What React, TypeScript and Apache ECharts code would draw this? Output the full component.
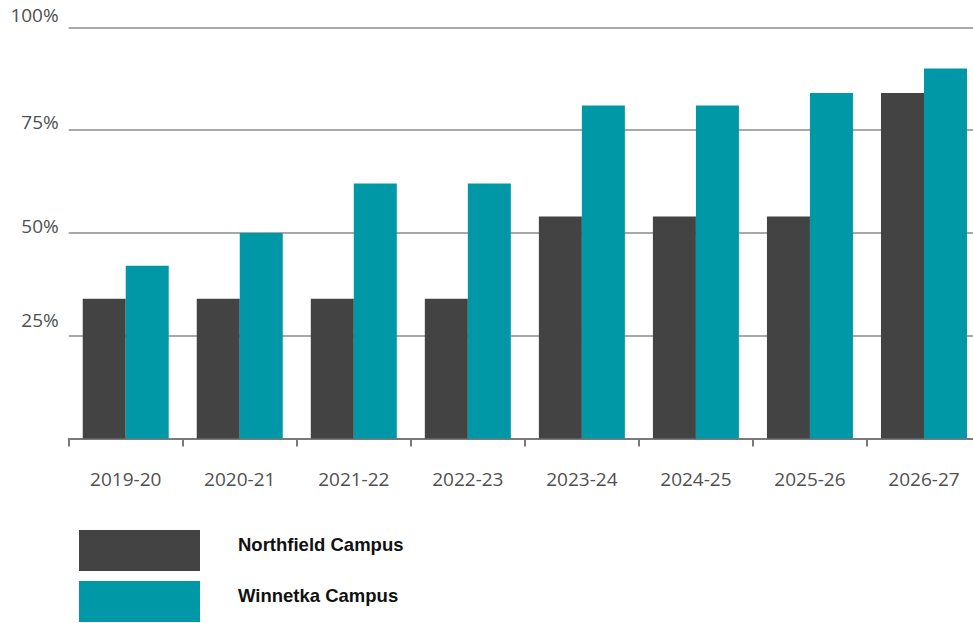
import React, { useEffect, useRef } from "react";
import * as echarts from "echarts";

const categories = ["2019-20", "2020-21", "2021-22", "2022-23", "2023-24", "2024-25", "2025-26", "2026-27"];
const northfield = [34, 34, 34, 34, 54, 54, 54, 84];
const winnetka = [42, 50, 62, 62, 81, 81, 84, 90];
const yTicks = [0, 25, 50, 75, 100];

const labelStyleKey: Record<number, string> = { 25: "l25", 50: "l50", 75: "l75", 100: "l100" };

export default function App() {
  const ref = useRef<HTMLDivElement>(null);
  useEffect(() => {
    if (!ref.current) return;
    const chart = echarts.init(ref.current, undefined, { renderer: "svg" });
    const labelFont = {
      fontFamily: "Open Sans",
      fontSize: 19,
      color: "#505050",
    };
    const legendFont = {
      fontFamily: "Liberation Sans",
      fontWeight: "bold",
      fontSize: 18.5,
      color: "#111",
    };
    chart.setOption({
      animation: false,
      grid: { left: 68.7, right: 9, top: 27.3, height: 411.2 },
      legend: {
        orient: "vertical",
        left: 79,
        top: 530,
        padding: 0,
        itemWidth: 121,
        itemHeight: 41,
        itemGap: 10,
        icon: "rect",
        selectedMode: false,
        formatter: (name: string) => `{t|${name}}`,
        textStyle: {
          ...legendFont,
          rich: {
            t: { ...legendFont, padding: [0, 0, 12, 33] },
          },
        },
        data: ["Northfield Campus", "Winnetka Campus"],
      },
      xAxis: {
        type: "category",
        data: categories,
        axisLine: { show: true, lineStyle: { color: "#7a7a7a", width: 2 } },
        axisTick: { show: true, length: 8, lineStyle: { color: "#7a7a7a", width: 2 } },
        axisLabel: { ...labelFont, margin: 31 },
      },
      yAxis: {
        type: "value",
        min: yTicks[0],
        max: yTicks[yTicks.length - 1],
        interval: 25,
        axisLine: { show: false },
        axisTick: { show: false },
        splitLine: { show: true, lineStyle: { color: "#a8a8a8", width: 2 } },
        axisLabel: {
          ...labelFont,
          margin: 10,
          verticalAlign: "middle",
          formatter: (v: number) => (v === 0 ? "" : `{${labelStyleKey[v]}|${v}%}`),
          rich: {
            l25: { ...labelFont, padding: [0, 0, 32, 0] },
            l50: { ...labelFont, padding: [0, 0, 14, 0] },
            l75: { ...labelFont, padding: [0, 0, 16, 0] },
            l100: { ...labelFont, padding: [0, 0, 24, 0] },
          },
        },
      },
      series: [
        {
          name: "Northfield Campus",
          type: "bar",
          data: northfield,
          barWidth: 43,
          barGap: "0%",
          itemStyle: { color: "#434343" },
        },
        {
          name: "Winnetka Campus",
          type: "bar",
          data: winnetka,
          barWidth: 43,
          barGap: "0%",
          itemStyle: { color: "#0097a7" },
        },
      ],
    });
    return () => chart.dispose();
  }, []);
  return (
    <div
      ref={ref}
      style={{ position: "fixed", left: 0, top: 0, width: 990, height: 623, background: "#fff" }}
    />
  );
}
